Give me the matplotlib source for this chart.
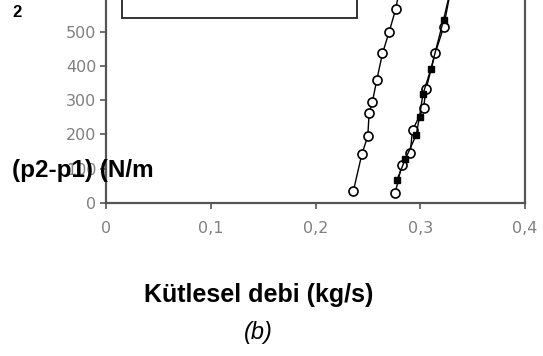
import matplotlib.pyplot as plt
from matplotlib.patches import Rectangle

# left series (open circles)
m_a = [0.2362, 0.2442, 0.2499, 0.2512, 0.2543, 0.2585, 0.2639, 0.2703, 0.2765, 0.2800]
p_a = [36, 142, 195, 263, 295, 359, 436, 499, 565, 620]

# right series (open circles)
m_b = [0.2760, 0.2824, 0.2904, 0.2926, 0.3031, 0.3054, 0.3142, 0.3222, 0.3290]
p_b = [28, 111, 147, 213, 276, 331, 436, 512, 620]

# right series (filled squares)
m_c = [0.2777, 0.2856, 0.2961, 0.2993, 0.3025, 0.3101, 0.3222, 0.3280]
p_c = [67, 127, 198, 252, 317, 390, 534, 610]

xticks = [0, 0.1, 0.2, 0.3, 0.4]
xticklabels = ['0', '0,1', '0,2', '0,3', '0,4']
yticks = [0, 100, 200, 300, 400, 500]

fig = plt.figure(figsize=(5.43, 3.56), dpi=100)
ax = fig.add_axes([0.1952, 0.4298, 0.7717, 0.5702])

ax.plot(m_a, p_a, '-', color='black', lw=1, marker='o', ms=6.5,
        mfc='white', mec='black', mew=1.2)
ax.plot(m_b, p_b, '-', color='black', lw=1, marker='o', ms=6.5,
        mfc='white', mec='black', mew=1.2)
ax.plot(m_c, p_c, '-', color='black', lw=1, marker='s', ms=5,
        mfc='black', mec='black')

ax.set_xlim(0, 0.4)
ax.set_ylim(0, 592)
ax.set_xticks(xticks)
ax.set_xticklabels(xticklabels)
ax.set_yticks(yticks)

for s in ['left', 'bottom', 'right']:
    ax.spines[s].set_color('#555555')
    ax.spines[s].set_linewidth(1.6)
ax.spines['top'].set_visible(False)
ax.tick_params(axis='both', colors='#555555', labelcolor='#808080',
               labelsize=11.5, length=4, width=1.2, direction='out')
ax.tick_params(axis='x', pad=9)
ax.tick_params(axis='y', pad=3)

# legend frame (its contents lie above the cropped top edge)
ax.add_patch(Rectangle((0.038, 0.91), 0.56, 0.2, transform=ax.transAxes,
                       facecolor='white', edgecolor='#333333', lw=1.4,
                       clip_on=False, zorder=5))

fig.text(0.022, 0.522, '(p2-p1) (N/m', fontsize=17.5, fontweight='bold',
         va='center', ha='left', family='Liberation Sans')
fig.text(0.022, 0.966, '2', fontsize=12, fontweight='bold',
         va='center', ha='left', family='Liberation Sans')
fig.text(0.477, 0.171, 'Kütlesel debi (kg/s)', fontsize=18, fontweight='bold',
         va='center', ha='center', family='Liberation Sans')
fig.text(0.475, 0.065, '(b)', fontsize=17, style='italic',
         va='center', ha='center', family='Liberation Sans')

fig.savefig('out.png', dpi=100)
